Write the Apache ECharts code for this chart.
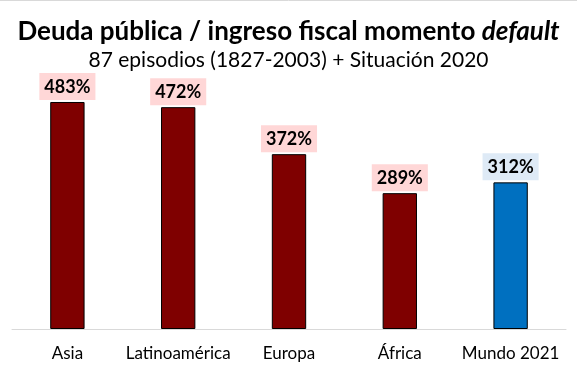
<!DOCTYPE html>
<html>
<head>
<meta charset="utf-8">
<script src="https://cdn.jsdelivr.net/npm/echarts@6/dist/echarts.min.js"></script>
<style>
html,body{margin:0;padding:0;background:#fff;}
#c{width:577px;height:380px;}
</style>
</head>
<body>
<div id="c"></div>
<script>
const categories = ['Asia', 'Latinoamérica', 'Europa', 'África', 'Mundo 2021'];
const values = [483, 472, 372, 289, 312];
const barColors = ['#7F0000', '#7F0000', '#7F0000', '#7F0000', '#0070C0'];
const labelBgColors = ['#FFD7D7', '#FFD7D7', '#FFD7D7', '#FFD7D7', '#DEEAF6'];

const FONT = 'Lato, "Open Sans", sans-serif';
const chart = echarts.init(document.getElementById('c'), null, {renderer: 'canvas'});
chart.setOption({
  animation: false,
  backgroundColor: '#fff',
  title: {
    left: 'center',
    top: 14,
    itemGap: 5,
    text: '{b|Deuda pública / ingreso fiscal momento }{i|default}',
    textStyle: {
      rich: {
        b: {fontFamily: FONT, fontWeight: 'bold', fontSize: 26, color: '#000'},
        i: {fontFamily: FONT, fontWeight: 'bold', fontStyle: 'italic', fontSize: 26, color: '#000'}
      }
    },
    subtext: '87 episodios (1827-2003) + Situación 2020',
    subtextStyle: {fontFamily: FONT, fontSize: 21, color: '#000'}
  },
  grid: {left: 12, right: 11, top: 47, bottom: 51},
  xAxis: {
    type: 'category',
    data: categories,
    axisLine: {lineStyle: {color: '#D9D9D9', width: 1}},
    axisTick: {show: false},
    axisLabel: {interval: 0, color: '#000', fontFamily: FONT, fontSize: 17, margin: 16}
  },
  yAxis: {
    type: 'value', min: 0, max: 600, show: false,
    splitLine: {show: false}
  },
  series: [{
    type: 'bar',
    barWidth: '31%',
    data: values.map((v, i) => ({
      value: v,
      itemStyle: {color: barColors[i], borderColor: '#000', borderWidth: 1},
      label: {backgroundColor: labelBgColors[i]}
    })),
    label: {
      show: true,
      position: 'top',
      distance: 2,
      formatter: '{c}%',
      fontFamily: FONT,
      fontWeight: 'bold',
      fontSize: 18,
      color: '#000',
      padding: [5, 5, 4, 5]
    }
  }],
  graphic: [{
    type: 'line',
    shape: {x1: 0, y1: 0.5, x2: 577, y2: 0.5},
    style: {stroke: '#D9D9D9', lineWidth: 1}
  }]
});
</script>
</body>
</html>
